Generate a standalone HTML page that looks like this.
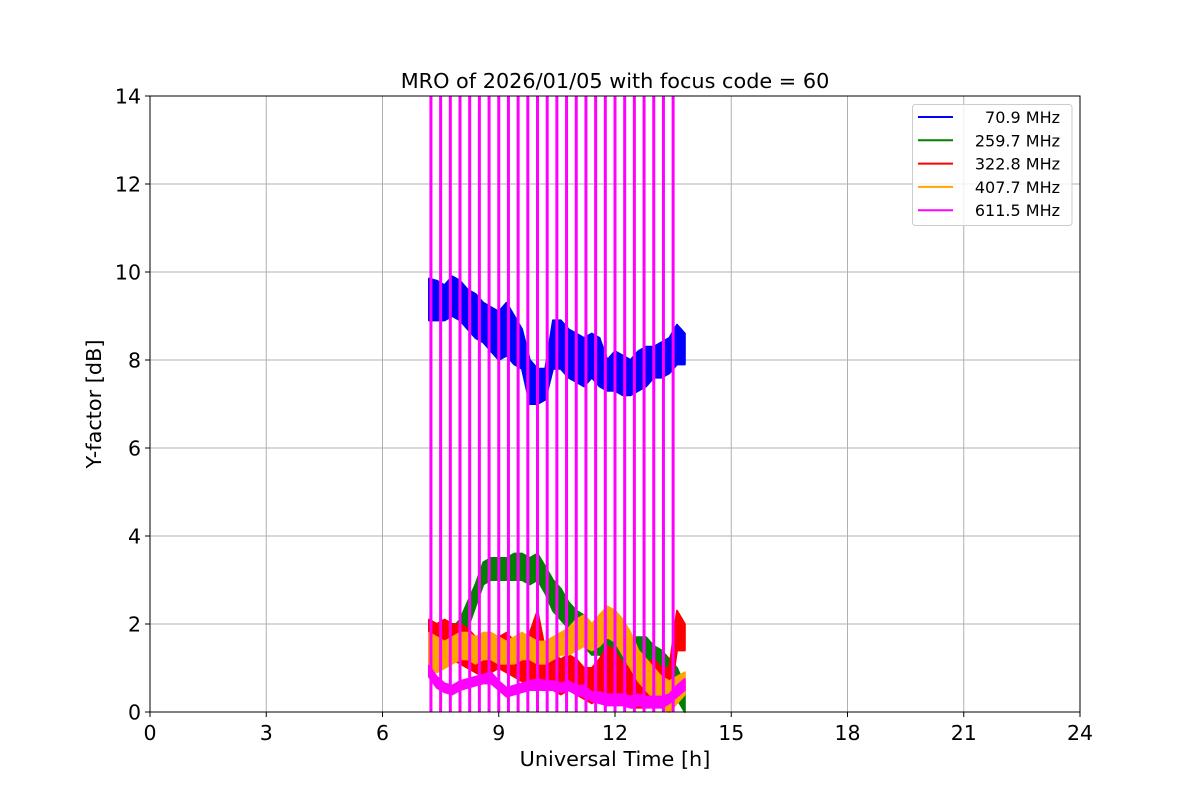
<!DOCTYPE html>
<html><head><meta charset="utf-8"><style>
html,body{margin:0;padding:0;background:#fff;}
svg{display:block;font-family:"DejaVu Sans","Liberation Sans",sans-serif;}
</style></head><body>
<svg id="chart" width="1200" height="800" viewBox="0 0 1200 800">
<rect width="1200" height="800" fill="#fff"/>
<g id="grid"></g>
<g id="series"></g>
<rect x="150" y="96" width="930" height="616" fill="none" stroke="#000" stroke-width="1"/>
<g id="ticks"></g>
<text x="615" y="88" font-size="20.8" text-anchor="middle">MRO of 2026/01/05 with focus code = 60</text>
<text x="615" y="766" font-size="20.8" text-anchor="middle">Universal Time [h]</text>
<text transform="translate(101,404) rotate(-90)" font-size="20.8" text-anchor="middle">Y-factor [dB]</text>
<g id="legend"></g>
</svg>
<script>
const times=[7.2,7.4,7.6,7.8,8.0,8.2,8.4,8.6,8.8,9.0,9.2,9.4,9.6,9.8,10.0,10.2,10.4,10.6,10.8,11.0,11.2,11.4,11.6,11.8,12.0,12.2,12.4,12.6,12.8,13.0,13.2,13.4,13.6,13.8];
const blueHi=[9.85,9.8,9.7,9.9,9.8,9.6,9.5,9.3,9.2,9.1,9.3,9.0,8.7,8.0,7.8,7.8,8.9,8.9,8.7,8.6,8.5,8.6,8.5,8.0,8.2,8.1,8.0,8.2,8.3,8.3,8.4,8.5,8.8,8.6];
const blueLo=[8.9,8.9,8.9,9.0,8.9,8.7,8.5,8.4,8.2,8.0,8.1,7.9,7.8,7.0,7.0,7.1,7.8,7.8,7.6,7.5,7.4,7.6,7.4,7.3,7.3,7.2,7.2,7.3,7.4,7.6,7.6,7.7,7.9,7.9];
const greenHi=[1.9,1.8,1.8,1.9,2.1,2.5,2.9,3.4,3.5,3.5,3.5,3.6,3.6,3.5,3.6,3.3,3.0,2.8,2.5,2.3,2.2,2.0,2.0,1.9,1.8,1.8,1.7,1.7,1.7,1.5,1.4,1.2,1.0,0.6];
const greenLo=[1.2,1.2,1.3,1.4,1.6,1.9,2.4,2.9,3.0,3.0,3.0,3.0,3.0,2.9,3.0,2.7,2.3,2.1,1.9,1.7,1.5,1.3,1.3,1.2,1.2,1.1,1.1,1.1,1.0,0.9,0.8,0.6,0.3,0.0];
const redHi=[2.1,2.0,2.1,2.0,2.0,1.9,1.7,1.6,1.6,1.7,1.8,1.6,1.5,1.8,2.3,1.4,1.3,1.2,1.3,1.2,1.0,1.0,1.2,1.5,1.4,1.1,1.0,1.0,1.1,1.2,1.0,1.0,2.3,2.0];
const redLo=[1.2,1.0,1.2,1.2,1.1,1.0,0.9,0.8,0.9,1.0,0.9,0.8,0.7,0.6,0.8,0.6,0.5,0.4,0.5,0.4,0.3,0.2,0.3,0.4,0.3,0.2,0.1,0.1,0.1,0.2,0.1,0.2,1.4,1.4];
const orangeHi=[1.8,1.7,1.6,1.7,1.8,1.8,1.7,1.8,1.8,1.7,1.6,1.7,1.8,1.7,1.6,1.6,1.7,1.8,1.9,2.1,2.2,2.0,2.2,2.4,2.3,2.1,1.8,1.4,1.2,1.0,0.8,0.7,0.8,0.9];
const orangeLo=[1.0,0.9,1.0,1.1,1.2,1.2,1.1,1.2,1.2,1.1,1.1,1.1,1.2,1.2,1.1,1.1,1.2,1.3,1.3,1.4,1.5,1.4,1.5,1.7,1.6,1.3,1.0,0.7,0.5,0.3,0.1,0.0,0.2,0.4];
const magentaHi=[1.05,0.8,0.65,0.6,0.7,0.75,0.8,0.85,0.9,0.7,0.55,0.6,0.65,0.7,0.75,0.7,0.7,0.65,0.7,0.6,0.6,0.45,0.45,0.4,0.4,0.4,0.35,0.4,0.35,0.35,0.35,0.4,0.6,0.75];
const magentaLo=[0.8,0.55,0.45,0.4,0.5,0.55,0.6,0.65,0.65,0.5,0.35,0.4,0.45,0.5,0.5,0.5,0.5,0.45,0.5,0.4,0.35,0.25,0.2,0.15,0.15,0.15,0.1,0.15,0.1,0.1,0.1,0.2,0.35,0.5];
const spikeTimes=[7.25,7.5,7.75,8.0,8.25,8.5,8.75,9.0,9.25,9.5,9.75,10.0,10.25,10.5,10.75,11.0,11.25,11.5,11.75,12.0,12.25,12.5,12.75,13.0,13.25,13.5];
const xTicks=[0,3,6,9,12,15,18,21,24];
const yTicks=[0,2,4,6,8,10,12,14];
const legendLabels=["70.9 MHz","259.7 MHz","322.8 MHz","407.7 MHz","611.5 MHz"];

const NS="http://www.w3.org/2000/svg";
const X0=150,X1=1080,Y0=712,Y1=96;
const xs=v=>X0+(v-0)/(24-0)*(X1-X0);
const ys=v=>Y0-(v-0)/(14-0)*(Y0-Y1);
function mk(tag,attrs,parent){const e=document.createElementNS(NS,tag);for(const k in attrs)e.setAttribute(k,attrs[k]);parent.appendChild(e);return e;}
const grid=document.getElementById('grid'),ticks=document.getElementById('ticks'),series=document.getElementById('series'),legend=document.getElementById('legend');

xTicks.forEach(t=>{
  const g=mk('line',{x1:xs(t),x2:xs(t),y1:Y1,y2:Y0,stroke:'#b0b0b0','stroke-width':1},grid);
  
  
  const tk=mk('line',{x1:xs(t),x2:xs(t),y1:Y0,y2:Y0+5,stroke:'#000','stroke-width':1},ticks);
  
  
  const tx=mk('text',{x:xs(t),y:Y0+28,'font-size':20.5,'text-anchor':'middle'},ticks);
  tx.textContent=t;
  
  
});
yTicks.forEach(t=>{
  const g=mk('line',{x1:X0,x2:X1,y1:ys(t),y2:ys(t),stroke:'#b0b0b0','stroke-width':1},grid);
  
  
  const tk=mk('line',{x1:X0-5,x2:X0,y1:ys(t),y2:ys(t),stroke:'#000','stroke-width':1},ticks);
  
  
  const tx=mk('text',{x:X0-9,y:ys(t)+7.5,'font-size':20.5,'text-anchor':'end'},ticks);
  tx.textContent=t;
  
  
});

const defs=[
 {hi:blueHi,lo:blueLo,c:'#0000ff',n:'series-70-9mhz'},
 {hi:greenHi,lo:greenLo,c:'#008000',n:'series-259-7mhz'},
 {hi:redHi,lo:redLo,c:'#ff0000',n:'series-322-8mhz'},
 {hi:orangeHi,lo:orangeLo,c:'#ffa500',n:'series-407-7mhz'},
 {hi:magentaHi,lo:magentaLo,c:'#ff00ff',n:'series-611-5mhz'}
];
defs.forEach(d=>{
  let pts=times.map((t,i)=>xs(t).toFixed(1)+','+ys(d.hi[i]).toFixed(1));
  for(let i=times.length-1;i>=0;i--)pts.push(xs(times[i]).toFixed(1)+','+ys(d.lo[i]).toFixed(1));
  const p=mk('polygon',{points:pts.join(' '),fill:d.c,stroke:d.c,'stroke-width':2,'stroke-linejoin':'round'},series);
  
  
});
spikeTimes.forEach(t=>{
  const s=mk('line',{x1:xs(t),x2:xs(t),y1:Y0,y2:Y1,stroke:'#ff00ff','stroke-width':3},series);
  
  
});

const box=mk('rect',{x:912.5,y:104.5,width:159.5,height:121,rx:3,fill:'#fff','fill-opacity':0.8,stroke:'#cccccc','stroke-width':1},legend);


legendLabels.forEach((l,i)=>{
  const y=117+i*23.3;
  const ln=mk('line',{x1:918,x2:953,y1:y,y2:y,stroke:defs[i].c,'stroke-width':2},legend);
  
  
  const tx=mk('text',{x:1060,y:y+6,'font-size':16,'text-anchor':'end'},legend);
  tx.textContent=l;
  
  
});
</script>
</body></html>
